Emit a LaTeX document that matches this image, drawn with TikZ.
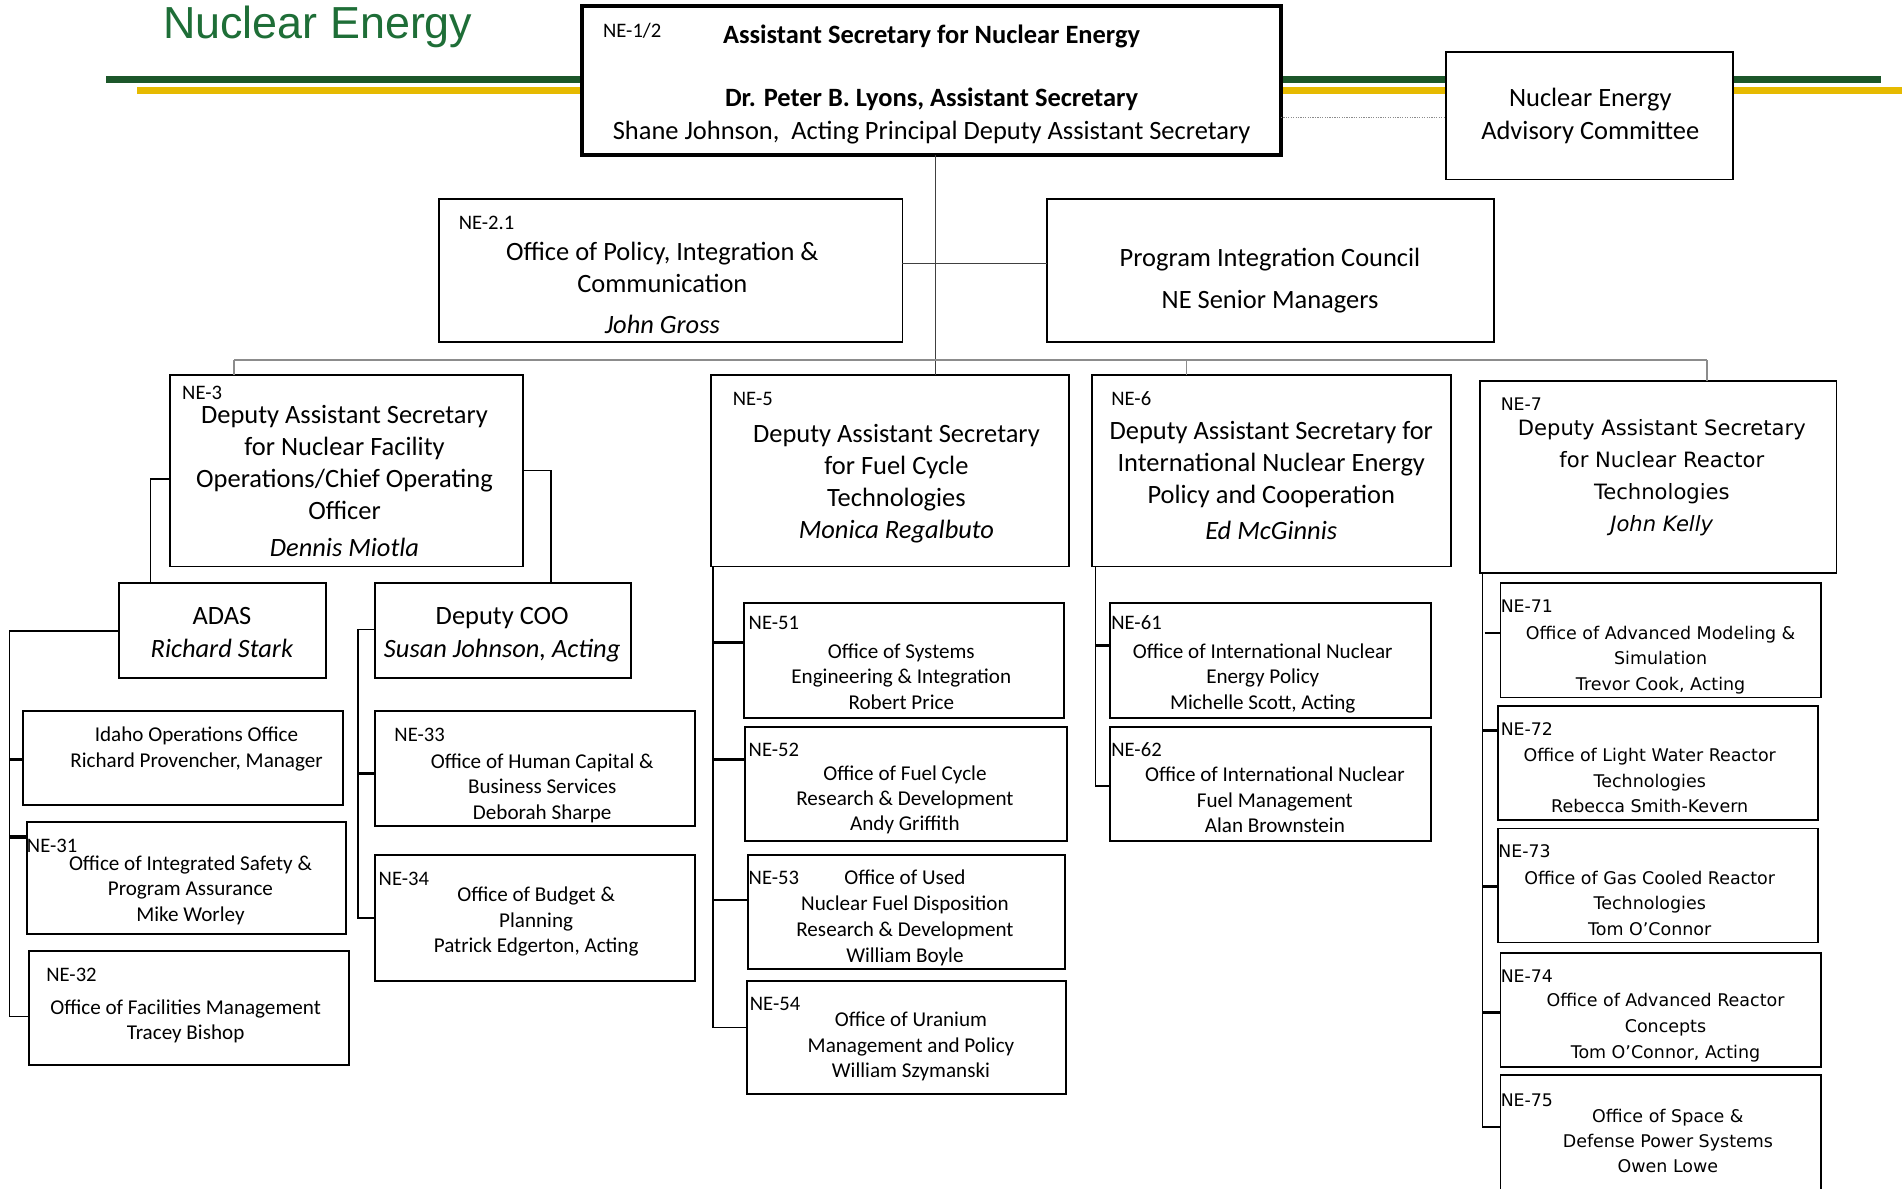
\documentclass[tikz,border=0pt]{standalone}
\usepackage{fontspec}
\setmainfont{Carlito}
\newfontfamily\dvfont{DejaVu Sans}
\newfontfamily\arfont{Liberation Sans}
\usetikzlibrary{fit}
\definecolor{negreen}{RGB}{30,110,55}
\definecolor{bargreen}{RGB}{28,87,42}
\definecolor{baryellow}{RGB}{230,186,0}
\tikzset{
 box/.style={draw=black, line width=1.6pt, fill=white, inner sep=0pt, outer sep=0pt},
 bigbox/.style={box, line width=3pt},
 big/.style={font=\fontsize{21.8}{26}\selectfont, inner sep=0pt},
 bigb/.style={font=\bfseries\fontsize{21.8}{26}\selectfont, inner sep=0pt},
 small/.style={font=\fontsize{17.4}{21}\selectfont, inner sep=0pt},
 lbl/.style={font=\fontsize{17}{20}\selectfont, inner sep=0pt, anchor=base west},
 dvbig/.style={font=\dvfont\fontsize{17.4}{26}\selectfont, inner sep=0pt},
 dvsmall/.style={font=\dvfont\fontsize{14.4}{21}\selectfont, inner sep=0pt},
 dvlbl/.style={font=\dvfont\fontsize{14.3}{20}\selectfont, inner sep=0pt, anchor=base west},
 conn/.style={draw=black, line width=1.3pt},
 tick/.style={draw=black, line width=2.5pt},
 thinline/.style={draw=black!75, line width=0.9pt},
 grayline/.style={draw=black!45, line width=1.3pt},
}
\newcommand\tlines[6]{\foreach \txtitem [count=\idx from 0] in {#6}{\node[#5, anchor=base] (#1-\idx) at (#2,{#3+\idx*#4}) {\txtitem};}}
\begin{document}
\begin{tikzpicture}[x=1pt,y=-1pt]
\useasboundingbox (0,0) rectangle (1568,980);
\clip (0,0) rectangle (1568,980);
% title and bars
\node[font=\arfont\fontsize{37}{40}\selectfont, text=negreen, anchor=base, inner sep=0pt] (title) at (262,32) {Nuclear Energy};
\fill[bargreen] (87,62.5) rectangle (1551,68.5);
\fill[baryellow] (113,71.5) rectangle (1568,77.5);
% boxes
\node[bigbox, fit={(480,5)(1056,128)}] (ne1) {};
\node[box, fit={(1192,43)(1429,148)}] (neac) {};
\node[box, fit={(362,164)(744,282)}] (ne21) {};
\node[box, fit={(863,164)(1232,282)}] (pic) {};
\node[box, fit={(140,309)(431,467)}] (ne3) {};
\node[box, fit={(586,309)(881,467)}] (ne5) {};
\node[box, fit={(900,309)(1196,467)}] (ne6) {};
\node[box, fit={(1220,314)(1514,472)}] (ne7) {};
\node[box, fit={(98,481)(269,559)}] (adas) {};
\node[box, fit={(309,481)(520,559)}] (dcoo) {};
\node[box, fit={(19,586)(283,664)}] (idaho) {};
\node[box, fit={(22,678)(285,770)}] (ne31) {};
\node[box, fit={(24,784)(288,878)}] (ne32) {};
\node[box, fit={(309,586)(573,681)}] (ne33) {};
\node[box, fit={(309,705)(573,809)}] (ne34) {};
\node[box, fit={(613,497)(877,592)}] (ne51) {};
\node[box, fit={(614,599)(880,693)}] (ne52) {};
\node[box, fit={(617,705)(878,799)}] (ne53) {};
\node[box, fit={(616,809)(879,902)}] (ne54) {};
\node[box, fit={(915,497)(1180,592)}] (ne61) {};
\node[box, fit={(915,599)(1180,693)}] (ne62) {};
\node[box, fit={(1237,481)(1501,575)}] (ne71) {};
\node[box, fit={(1235,582)(1499,676)}] (ne72) {};
\node[box, fit={(1235,683)(1499,777)}] (ne73) {};
\node[box, fit={(1237,786)(1501,880)}] (ne74) {};
\node[box, fit={(1237,886)(1501,995)}] (ne75) {};
% connectors
\draw[thinline] (ne1.south -| 771,0) -- (ne5.north -| 771,0);
\draw[thinline] (ne21.east |- 0,217) -- (pic.west |- 0,217);
\draw[densely dotted, draw=black!45, line width=1pt] (ne1.east |- 0,97) -- (neac.west |- 0,97);
\draw[grayline] (193,297) -- (1407,297);
\draw[grayline] (193,297) -- (ne3.north -| 193,0);
\draw[grayline] (978,297) -- (ne6.north -| 978,0);
\draw[grayline] (1407,297) -- (ne7.north -| 1407,0);
\draw[conn] (ne3.west |- 0,395) -| (adas.north -| 124,0);
\draw[conn] (ne3.east |- 0,388) -| (dcoo.north -| 454,0);
\draw[conn] (adas.west |- 0,520) -| (8,838) -- (ne32.west |- 0,838);
\draw[tick] (8,626) -- (idaho.west |- 0,626);
\draw[tick] (8,690) -- (ne31.west |- 0,690);
\draw[conn] (dcoo.west |- 0,519) -| (295,757) -- (ne34.west |- 0,757);
\draw[tick] (295,638) -- (ne33.west |- 0,638);
\draw[conn] (ne5.south -| 588,0) -- (588,847) -- (ne54.west |- 0,847);
\draw[tick] (588,530) -- (ne51.west |- 0,530);
\draw[tick] (588,626) -- (ne52.west |- 0,626);
\draw[conn] (588,742) -- (ne53.west |- 0,742);
\draw[conn] (ne6.south -| 903,0) -- (903,648) -- (ne62.west |- 0,648);
\draw[tick] (903,532) -- (ne61.west |- 0,532);
\draw[conn] (ne7.south -| 1222,0) -- (1222,929) -- (ne75.west |- 0,929);
\draw[conn] (1224,522) -- (ne71.west |- 0,522);
\draw[tick] (1222,602) -- (ne72.west |- 0,602);
\draw[tick] (1222,731) -- (ne73.west |- 0,731);
\draw[tick] (1222,835) -- (ne74.west |- 0,835);
% texts
\begin{scope}[yshift=-1pt]
\node[lbl] (l12) at (497,30) {NE-1/2};
\tlines{t12}{768}{35}{52}{bigb}{{Assistant Secretary for Nuclear Energy},{Dr. Peter B. Lyons, Assistant Secretary}}
\node[big, anchor=base] (t12c) at (768,114) {Shane Johnson,\ \ Acting Principal Deputy Assistant Secretary};
\tlines{tneac}{1311}{87}{27}{big}{{Nuclear Energy},{Advisory Committee}}
\node[lbl] (l21) at (378,188) {NE-2.1};
\tlines{t21}{546}{214}{26}{big}{{Office of Policy, Integration \&},{Communication}}
\node[big, anchor=base] (t21n) at (546,274) {\textit{John Gross}};
\tlines{tpic}{1047}{219}{34}{big}{{Program Integration Council},{NE Senior Managers}}
\node[lbl] (l3) at (150,328) {NE-3};
\tlines{t3}{284}{348}{26.3}{big}{{Deputy Assistant Secretary},{for Nuclear Facility},{Operations/Chief Operating},{Officer}}
\node[big, anchor=base] (t3n) at (284,458) {\textit{Dennis Miotla}};
\node[lbl] (l5) at (604,333) {NE-5};
\tlines{t5}{739}{364}{26.3}{big}{{Deputy Assistant Secretary},{for Fuel Cycle},{Technologies},{\textit{Monica Regalbuto}}}
\node[lbl] (l6) at (916,333) {NE-6};
\tlines{t6}{1048}{361}{26.5}{big}{{Deputy Assistant Secretary for},{International Nuclear Energy},{Policy and Cooperation}}
\node[big, anchor=base] (t6n) at (1048,444) {\textit{Ed McGinnis}};
\node[dvlbl] (l7) at (1237,337) {NE-7};
\tlines{t7}{1370}{358}{26.3}{dvbig}{{Deputy Assistant Secretary},{for Nuclear Reactor},{Technologies},{\textit{John Kelly}}}
\tlines{tad}{183}{514}{27}{big}{{ADAS},{\textit{Richard Stark}}}
\tlines{tdc}{414}{514}{27}{big}{{Deputy COO},{\textit{Susan Johnson, Acting}}}
\tlines{tid}{162}{610.5}{21}{small}{{Idaho Operations Office},{Richard Provencher, Manager}}
\node[lbl] (l31) at (22,702) {NE-31};
\tlines{t31}{157}{716.5}{21}{small}{{Office of Integrated Safety \&},{Program Assurance},{Mike Worley}}
\node[lbl] (l32) at (38,808) {NE-32};
\tlines{t32}{153}{835.5}{20.5}{small}{{Office of Facilities Management},{Tracey Bishop}}
\node[lbl] (l33) at (325,610) {NE-33};
\tlines{t33}{447}{632.5}{21}{small}{{Office of Human Capital \&},{Business Services},{Deborah Sharpe}}
\node[lbl] (l34) at (312,729) {NE-34};
\tlines{t34}{442}{742.5}{21}{small}{{Office of Budget \&},{Planning},{Patrick Edgerton, Acting}}
\node[lbl] (l51) at (617,518) {NE-51};
\tlines{t51}{743}{541.5}{21}{small}{{Office of Systems},{Engineering \& Integration},{Robert Price}}
\node[lbl] (l52) at (617,623) {NE-52};
\tlines{t52}{746}{642.5}{20.7}{small}{{Office of Fuel Cycle},{Research \& Development},{Andy Griffith}}
\node[lbl] (l53) at (617,728.5) {NE-53};
\tlines{t53}{746}{728.5}{21.3}{small}{{Office of Used},{Nuclear Fuel Disposition},{Research \& Development},{William Boyle}}
\node[lbl] (l54) at (618,832) {NE-54};
\tlines{t54}{751}{845.5}{21}{small}{{Office of Uranium},{Management and Policy},{William Szymanski}}
\node[lbl] (l61) at (916,518) {NE-61};
\tlines{t61}{1041}{541.5}{21}{small}{{Office of International Nuclear},{Energy Policy},{Michelle Scott, Acting}}
\node[lbl] (l62) at (916,623) {NE-62};
\tlines{t62}{1051}{643.5}{21}{small}{{Office of International Nuclear},{Fuel Management},{Alan Brownstein}}
\node[dvlbl] (l71) at (1237,504) {NE-71};
\tlines{t71}{1369}{526}{21}{dvsmall}{{Office of Advanced Modeling \&},{Simulation},{Trevor Cook, Acting}}
\node[dvlbl] (l72) at (1237,605) {NE-72};
\tlines{t72}{1360}{627}{21}{dvsmall}{{Office of Light Water Reactor},{Technologies},{Rebecca Smith-Kevern}}
\node[dvlbl] (l73) at (1235,706) {NE-73};
\tlines{t73}{1360}{728}{21}{dvsmall}{{Office of Gas Cooled Reactor},{Technologies},{Tom O’Connor}}
\node[dvlbl] (l74) at (1237,809) {NE-74};
\tlines{t74}{1373}{829}{21.5}{dvsmall}{{Office of Advanced Reactor},{Concepts},{Tom O’Connor, Acting}}
\node[dvlbl] (l75) at (1237,911) {NE-75};
\tlines{t75}{1375}{924}{21}{dvsmall}{{Office of Space \&},{Defense Power Systems},{Owen Lowe}}
\end{scope}
\end{tikzpicture}
\end{document}
